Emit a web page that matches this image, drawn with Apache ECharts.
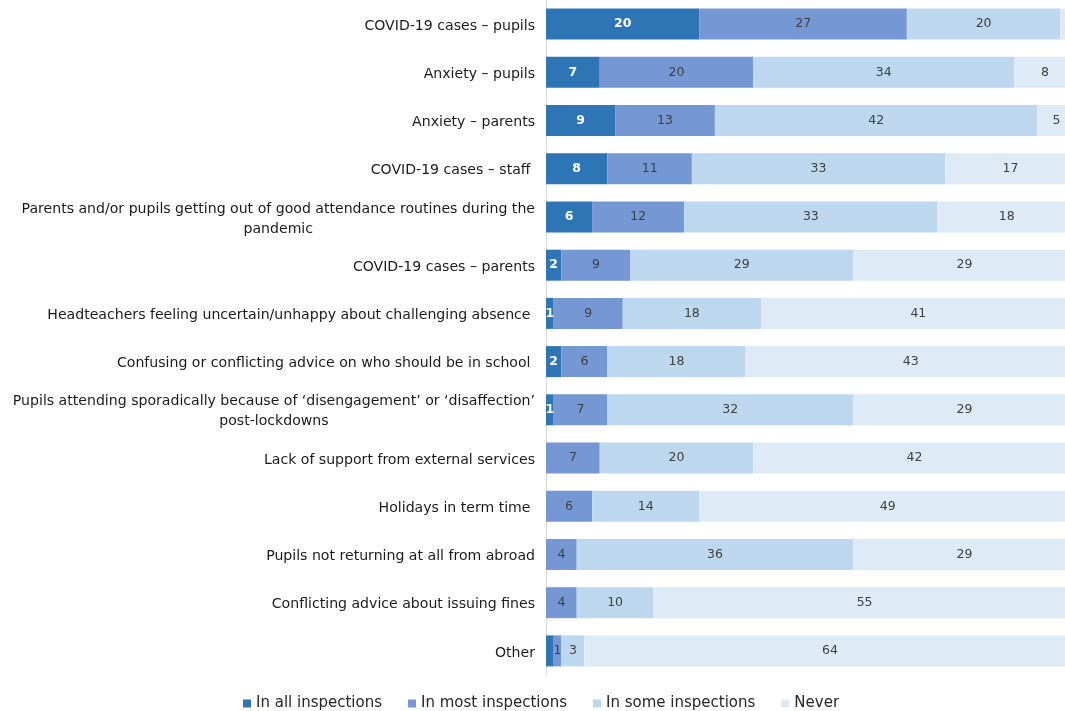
<!DOCTYPE html>
<html>
<head>
<meta charset="utf-8">
<script src="https://cdn.jsdelivr.net/npm/echarts@6/dist/echarts.min.js"></script>
<style>
html,body{margin:0;padding:0;background:#fff;}
#chart{width:1065px;height:711px;}
</style>
</head>
<body>
<div id="chart"></div>
<script>
var categories = [
  'COVID-19 cases \u2013 pupils',
  'Anxiety \u2013 pupils',
  'Anxiety \u2013 parents',
  'COVID-19 cases \u2013 staff ',
  'Parents and/or pupils getting out of good attendance routines during the\npandemic',
  'COVID-19 cases \u2013 parents',
  'Headteachers feeling uncertain/unhappy about challenging absence ',
  'Confusing or conflicting advice on who should be in school ',
  'Pupils attending sporadically because of \u2018disengagement\u2019 or \u2018disaffection\u2019\npost-lockdowns',
  'Lack of support from external services',
  'Holidays in term time ',
  'Pupils not returning at all from abroad',
  'Conflicting advice about issuing fines',
  'Other'
];
var seriesNames = ['In all inspections', 'In most inspections', 'In some inspections', 'Never'];
var inAll  = [20, 7, 9, 8, 6, 2, 1, 2, 1, 0, 0, 0, 0, 1];
var inMost = [27, 20, 13, 11, 12, 9, 9, 6, 7, 7, 6, 4, 4, 1];
var inSome = [20, 34, 42, 33, 33, 29, 18, 18, 32, 20, 14, 36, 10, 3];
var never  = [2, 8, 5, 17, 18, 29, 41, 43, 29, 42, 49, 29, 55, 64];

var colors = ['#2E75B6', '#7597D3', '#BDD7EE', '#DEEBF7'];
var FONT = 'DejaVu Sans';
var CAT_SIZE = 14.1;

function buildData(arr, sIdx) {
  return arr.map(function (v, i) {
    if (sIdx === 0 && categories[i] === 'Other') {
      return { value: v, label: { show: false } };
    }
    return v;
  });
}

var allValues = [inAll, inMost, inSome, never];
var series = allValues.map(function (arr, s) {
  return {
    name: seriesNames[s],
    type: 'bar',
    stack: 'total',
    barWidth: 31,
    clip: false,
    itemStyle: { color: colors[s] },
    label: {
      show: true,
      position: 'inside',
      fontFamily: FONT,
      fontSize: 12.5,
      fontWeight: s === 0 ? 'bold' : 'normal',
      color: s === 0 ? '#ffffff' : '#404040',
      padding: [2, 0, 0, 0],
      formatter: function (p) { return p.value ? String(p.value) : ''; }
    },
    data: buildData(arr, s)
  };
});

var chart = echarts.init(document.getElementById('chart'));
chart.setOption({
  animation: false,
  backgroundColor: '#ffffff',
  grid: { left: 546, right: 0, top: 0, bottom: 36, containLabel: false },
  xAxis: {
    type: 'value', min: 0, max: 67.6, show: false
  },
  yAxis: {
    type: 'category',
    inverse: true,
    data: categories,
    axisTick: { show: false },
    axisLine: { show: true, lineStyle: { color: '#D9D9D9', width: 1 } },
    axisLabel: {
      margin: 11,
      fontFamily: FONT,
      fontSize: CAT_SIZE,
      color: '#1a1a1a',
      lineHeight: 20,
      padding: [4, 0, 0, 0],
      formatter: function (v) {
        if (v.indexOf('\n') >= 0) {
          return v.split('\n').map(function (l) { return '{c|' + l + '}'; }).join('\n');
        }
        return v;
      },
      rich: {
        c: { align: 'center', fontFamily: FONT, fontSize: CAT_SIZE, color: '#1a1a1a', lineHeight: 20 }
      }
    }
  },
  legend: {
    data: seriesNames,
    left: 238,
    top: 691,
    itemWidth: 8,
    itemHeight: 8,
    itemGap: 26,
    icon: 'rect',
    textStyle: { fontFamily: FONT, fontSize: 15, color: '#262626' }
  },
  series: series
});
</script>
</body>
</html>
